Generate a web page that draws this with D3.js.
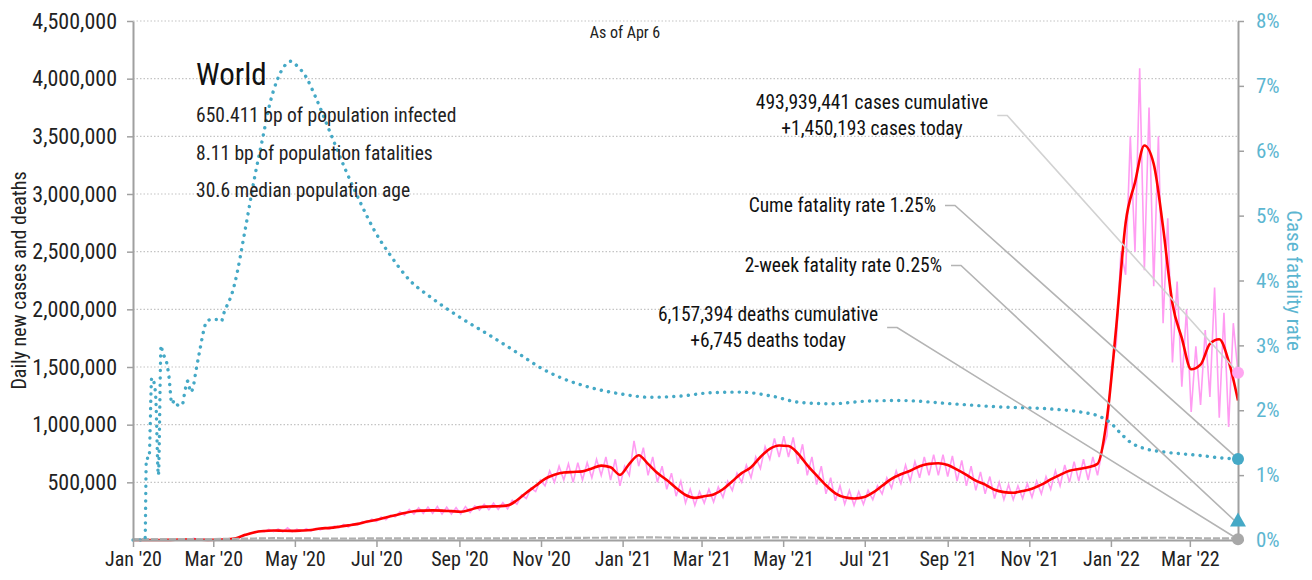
<!DOCTYPE html>
<html>
<head>
<meta charset="utf-8">
<script src="https://cdn.jsdelivr.net/npm/d3@7"></script>
<style>
  body { margin: 0; background: #fff; }
  svg text { font-family: 'Liberation Sans Narrow', 'Roboto Condensed', 'DejaVu Sans Condensed', 'Arial Narrow', sans-serif; font-stretch: condensed; }
</style>
</head>
<body>
<div id="chart"></div>
<script>
// ---- data ----
// weekly points, starting 2020-01-01, every 7 days (thousands of cases)
const weekStart = '2020-01-01';
const casesAvgK = [
  0, 0, 0, 0.1, 1.5, 3, 4.5, 3, 1.5, 2.5, 6, 16, 45, 68, 78, 82, 80, 79, 82, 87,
  100, 105, 115, 127, 140, 160, 175, 195, 215, 235, 250, 255, 257, 255, 250, 245, 262, 285, 290, 293,
  300, 345, 410, 470, 530, 565, 585, 590, 595, 620, 645, 630, 565, 660, 735, 660, 580, 520, 450, 390,
  365, 380, 395, 440, 510, 580, 630, 720, 790, 820, 815, 750, 650, 560, 475, 405, 370, 360, 370, 410,
  470, 530, 570, 600, 640, 660, 665, 650, 610, 565, 515, 480, 435, 415, 410, 425, 445, 480, 525, 565,
  600, 615, 630, 660, 1050, 1850, 2750, 3100, 3420, 3260, 2710, 2050, 1750, 1480, 1520, 1700, 1740, 1550, 1210
];
// raw daily cases: weekly low (start of week) and weekly high (mid-week), thousands
const casesLowK = [
  0, 0, 0, 0.1, 1.2, 2.8, 2.5, 2, 1, 2, 5, 13, 40, 62, 70, 72, 70, 72, 75, 78,
  88, 95, 105, 112, 130, 150, 160, 175, 200, 215, 225, 230, 230, 225, 225, 225, 240, 260, 262, 265,
  270, 310, 360, 420, 470, 500, 520, 500, 520, 540, 560, 520, 470, 560, 640, 560, 500, 440, 380, 320,
  300, 320, 330, 370, 430, 500, 540, 620, 700, 720, 720, 660, 560, 480, 400, 340, 310, 300, 310, 350,
  400, 450, 490, 510, 540, 560, 560, 550, 510, 470, 430, 400, 360, 350, 350, 360, 370, 400, 440, 470,
  500, 510, 520, 560, 900, 1700, 2300, 2500, 2340, 2200, 1880, 1540, 1330, 1110, 1170, 1240, 1060, 980
];
const casesHighK = [
  0, 0, 0.1, 0.6, 2.5, 3.9, 15, 3.5, 2, 3.5, 9, 25, 60, 80, 92, 95, 105, 95, 98, 100,
  108, 120, 135, 140, 160, 180, 200, 215, 245, 265, 280, 285, 290, 285, 280, 290, 295, 310, 320, 325,
  345, 390, 450, 520, 600, 640, 660, 670, 670, 700, 720, 700, 640, 860, 800, 720, 640, 580, 510, 440,
  420, 440, 460, 510, 580, 650, 720, 810, 880, 900, 890, 830, 720, 640, 540, 470, 430, 420, 430, 470,
  540, 600, 650, 680, 720, 740, 740, 730, 690, 640, 590, 550, 500, 480, 470, 490, 510, 550, 600, 650,
  680, 700, 720, 780, 1500, 2500, 3500, 4090, 3750, 3500, 2790, 2240, 2000, 1680, 1820, 2190, 1970, 1880
];
// case fatality rate (%), cumulative deaths / cumulative cases
const cfrDates = [
  '2020-01-01', '2020-01-10', '2020-01-11', '2020-01-13', '2020-01-15', '2020-01-17', '2020-01-18', '2020-01-20',
  '2020-01-22', '2020-01-23', '2020-01-26', '2020-01-28', '2020-01-30', '2020-02-01', '2020-02-04', '2020-02-07',
  '2020-02-08', '2020-02-11', '2020-02-13', '2020-02-15', '2020-02-17', '2020-02-20', '2020-02-23', '2020-02-25',
  '2020-02-29', '2020-03-04', '2020-03-07', '2020-03-09', '2020-03-11', '2020-03-15', '2020-03-17', '2020-03-25',
  '2020-04-01', '2020-04-07', '2020-04-12', '2020-04-18', '2020-04-23', '2020-04-28', '2020-05-03', '2020-05-09',
  '2020-05-16', '2020-05-27', '2020-06-08', '2020-06-19', '2020-06-30', '2020-07-11', '2020-07-26', '2020-08-10',
  '2020-08-31', '2020-09-24', '2020-10-17', '2020-11-01', '2020-11-16', '2020-12-08', '2020-12-31', '2021-01-22',
  '2021-02-14', '2021-03-08', '2021-03-30', '2021-04-22', '2021-05-14', '2021-06-06', '2021-07-02', '2021-07-28',
  '2021-09-04', '2021-10-11', '2021-11-17', '2021-12-10', '2021-12-24', '2022-01-01', '2022-01-08', '2022-01-16',
  '2022-01-26', '2022-02-08', '2022-02-22', '2022-03-10', '2022-03-22', '2022-04-06'
];
const cfrPct = [
  0, 0, 1.26, 1.26, 2.5, 2.4, 2.2, 1.0,
  3.0, 2.9, 2.75, 2.5, 2.1, 2.15, 2.07, 2.09,
  2.2, 2.45, 2.28, 2.36, 2.6, 2.93, 3.24, 3.37,
  3.4, 3.4, 3.37, 3.5, 3.6, 3.8, 3.95, 4.8,
  5.6, 6.2, 6.7, 7.1, 7.3, 7.38, 7.3, 7.15,
  6.85, 6.3, 5.7, 5.2, 4.75, 4.4, 4.0, 3.75,
  3.45, 3.15, 2.85, 2.65, 2.5, 2.35, 2.25, 2.2,
  2.22, 2.27, 2.28, 2.22, 2.12, 2.1, 2.14, 2.15,
  2.1, 2.05, 2.02, 1.97, 1.9, 1.8, 1.65, 1.5,
  1.41, 1.36, 1.33, 1.3, 1.27, 1.25
];
// daily deaths, 7-day average (thousands)
const deathDates = [
  '2020-01-01', '2020-02-01', '2020-03-01', '2020-04-01', '2020-04-15', '2020-05-01', '2020-06-01', '2020-07-01',
  '2020-08-01', '2020-09-01', '2020-10-01', '2020-11-01', '2020-12-01', '2021-01-01', '2021-01-20', '2021-02-15',
  '2021-03-15', '2021-04-01', '2021-04-25', '2021-05-15', '2021-06-15', '2021-07-15', '2021-08-15', '2021-09-01',
  '2021-10-01', '2021-11-01', '2021-12-01', '2022-01-01', '2022-02-10', '2022-03-01', '2022-03-20', '2022-04-06'
];
const deathsK = [
  0, 0.05, 0.07, 4.5, 7, 5.5, 4.3, 4.8,
  5.8, 5.5, 5.3, 7.5, 10.5, 11.5, 14.3, 10.5,
  8.8, 10, 14, 12.5, 8, 8, 10, 9.8,
  7.5, 7, 7, 6, 11, 8, 5.5, 6.745
];
const asOf = '2022-04-06';
const casesToday = 1450193;
const deathsToday = 6745;
const cfrCume = 1.25;
const cfrTwoWeek = 0.25;

const casesTicks = [500000, 1000000, 1500000, 2000000, 2500000, 3000000, 3500000, 4000000, 4500000];
const pctTicks = [0, 1, 2, 3, 4, 5, 6, 7, 8];

const titleText = 'World';
const statLines = [
  '650.411 bp of population infected',
  '8.11 bp of population fatalities',
  '30.6 median population age'
];
const casesNote = ['493,939,441 cases cumulative', '+1,450,193 cases today'];
const deathsNote = ['6,157,394 deaths cumulative', '+6,745 deaths today'];
const cumeNote = 'Cume fatality rate 1.25%';
const twoWeekNote = '2-week fatality rate 0.25%';

// ---- chart ----
const W = 1312, H = 580;
const margin = { top: 21, right: 74, bottom: 40, left: 133 };
const parse = d3.timeParse('%Y-%m-%d');
const t0 = parse(weekStart);
const tEnd = parse(asOf);

const svg = d3.select('#chart').append('svg')
  .attr('width', W).attr('height', H);

const x = d3.scaleTime().domain([t0, tEnd]).range([margin.left, W - margin.right]);
const y = d3.scaleLinear().domain([0, 4500000]).range([H - margin.bottom, margin.top]);
const yPct = d3.scaleLinear().domain([0, 8]).range([H - margin.bottom, margin.top]);

const CFR_BLUE = '#45a9c6';
const PCT_LABEL = '#5cb6d1';
const PINK = '#ff9cf2';
const RED = '#ff0000';
const AXIS = '#a0a0a0';

// gridlines
svg.append('g')
  .selectAll('line')
  .data(casesTicks)
  .join('line')
  .attr('x1', margin.left).attr('x2', W - margin.right)
  .attr('y1', d => y(d)).attr('y2', d => y(d))
  .attr('stroke', '#c4c4c4')
  .attr('stroke-width', 1.2)
  .attr('stroke-dasharray', '1.5,2');

// raw daily cases
const rawPts = [];
casesLowK.forEach((v, i) => {
  rawPts.push({ t: d3.timeDay.offset(t0, 7 * i), v: v * 1000 });
  rawPts.push({ t: d3.timeHour.offset(t0, 7 * 24 * i + 84), v: casesHighK[i] * 1000 });
});
rawPts.push({ t: tEnd, v: casesToday });

svg.append('path')
  .datum(rawPts)
  .attr('fill', 'none')
  .attr('stroke', PINK)
  .attr('stroke-width', 1.6)
  .attr('d', d3.line().x(d => x(d.t)).y(d => y(d.v)));

// 7-day average
const avgPts = casesAvgK.map((v, i) => ({ t: d3.timeDay.offset(t0, 7 * i), v: v * 1000 }));
svg.append('path')
  .datum(avgPts)
  .attr('fill', 'none')
  .attr('stroke', RED)
  .attr('stroke-width', 2.6)
  .attr('d', d3.line().x(d => x(d.t)).y(d => y(d.v)).curve(d3.curveMonotoneX));

// deaths
const deathPts = deathDates.map((d, i) => ({ t: parse(d), v: deathsK[i] * 1000 }));
svg.append('path')
  .datum(deathPts)
  .attr('fill', 'none')
  .attr('stroke', '#b0b0b0')
  .attr('stroke-width', 2.2)
  .attr('stroke-dasharray', '7,2')
  .attr('d', d3.line().x(d => x(d.t)).y(d => y(d.v) - 1).curve(d3.curveMonotoneX));

// case fatality rate, dotted
const cfrPts = cfrDates.map((d, i) => ({ t: parse(d), v: cfrPct[i] }));
svg.append('path')
  .datum(cfrPts)
  .attr('fill', 'none')
  .attr('stroke', CFR_BLUE)
  .attr('stroke-width', 3.4)
  .attr('stroke-linecap', 'round')
  .attr('stroke-dasharray', '0.1,7.2')
  .attr('d', d3.line().x(d => x(d.t)).y(d => yPct(d.v)).curve(d3.curveMonotoneX));

// axes
const xAxis = svg.append('g')
  .attr('transform', `translate(0,${H - margin.bottom})`)
  .call(d3.axisBottom(x)
    .ticks(d3.timeMonth.every(2))
    .tickFormat(d3.timeFormat("%b '%y"))
    .tickSize(7)
    .tickPadding(5)
    .tickSizeOuter(0));

const yAxis = svg.append('g')
  .attr('transform', `translate(${margin.left},0)`)
  .call(d3.axisLeft(y)
    .tickValues(casesTicks)
    .tickFormat(d3.format(','))
    .tickSize(6)
    .tickPadding(10)
    .tickSizeOuter(0));

const yAxisR = svg.append('g')
  .attr('transform', `translate(${W - margin.right},0)`)
  .call(d3.axisRight(yPct)
    .tickValues(pctTicks)
    .tickFormat(d => d + '%')
    .tickSize(6)
    .tickPadding(12)
    .tickSizeOuter(0));

[xAxis, yAxis, yAxisR].forEach(a => {
  a.select('.domain').attr('stroke', AXIS).attr('stroke-width', 2);
  a.selectAll('.tick line').attr('stroke', AXIS).attr('stroke-width', 1.5);
  a.selectAll('.tick text').attr('fill', '#222');
});
xAxis.selectAll('.tick text').style('font-size', '20px');
yAxis.selectAll('.tick text').style('font-size', '22px');
yAxisR.selectAll('.tick text').attr('fill', PCT_LABEL).style('font-size', '21px');

// axis titles
svg.append('text')
  .attr('transform', `translate(26,${(margin.top + H - margin.bottom) / 2}) rotate(-90)`)
  .attr('text-anchor', 'middle')
  .style('font-size', '20px')
  .attr('fill', '#222')
  .text('Daily new cases and deaths');

svg.append('text')
  .attr('transform', `translate(1287,${(margin.top + H - margin.bottom) / 2}) rotate(90)`)
  .attr('text-anchor', 'middle')
  .style('font-size', '21px')
  .attr('fill', PCT_LABEL)
  .text('Case fatality rate');

svg.append('text')
  .attr('x', 625).attr('y', 38)
  .attr('text-anchor', 'middle')
  .style('font-size', '16px')
  .attr('fill', '#222')
  .text('As of Apr 6');

// title block
svg.append('text')
  .attr('x', 196).attr('y', 85)
  .style('font-size', '31px')
  .attr('fill', '#111')
  .text(titleText);

statLines.forEach((s, i) => {
  svg.append('text')
    .attr('x', 196).attr('y', 122 + i * 37.5)
    .style('font-size', '19.5px')
    .attr('fill', '#222')
    .text(s);
});

// annotations with leader lines
function note(lines, cx, y0, anchor, target, color) {
  const g = svg.append('g');
  lines.forEach((s, i) => {
    g.append('text')
      .attr('x', cx).attr('y', y0 + i * 26)
      .attr('text-anchor', anchor)
      .style('font-size', '19.5px')
      .attr('fill', '#111')
      .text(s);
  });
  const b = g.node().getBBox();
  const sx = b.x + b.width + 9;
  const sy = b.y + b.height / 2;
  svg.append('path')
    .attr('fill', 'none')
    .attr('stroke', color)
    .attr('stroke-width', 1.6)
    .attr('d', d3.line()([[sx, sy], [sx + 10, sy], target]));
}

const xe = x(tEnd);
note(casesNote, 872, 109, 'middle', [xe, y(casesToday)], '#d2d2d2');
note([cumeNote], 936, 212, 'end', [xe, yPct(cfrCume)], '#b4b4b4');
note([twoWeekNote], 942, 272, 'end', [xe, yPct(cfrTwoWeek)], '#b4b4b4');
note(deathsNote, 768, 321, 'middle', [xe, y(deathsToday)], '#b4b4b4');

// end markers
svg.append('circle').attr('cx', xe).attr('cy', y(casesToday)).attr('r', 6).attr('fill', '#ffa6f0');
svg.append('circle').attr('cx', xe).attr('cy', yPct(cfrCume)).attr('r', 6).attr('fill', CFR_BLUE);
svg.append('path')
  .attr('transform', `translate(${xe},${yPct(cfrTwoWeek) - 2})`)
  .attr('d', d3.symbol(d3.symbolTriangle, 110)())
  .attr('fill', CFR_BLUE);
svg.append('circle').attr('cx', xe).attr('cy', y(deathsToday)).attr('r', 6).attr('fill', '#a8a8a8');
</script>
</body>
</html>
